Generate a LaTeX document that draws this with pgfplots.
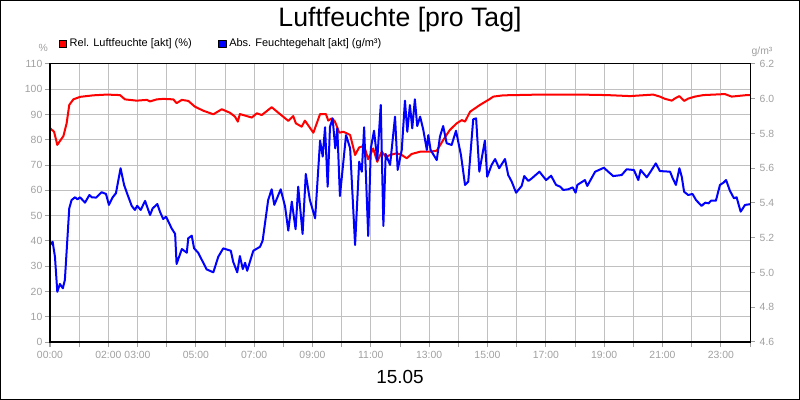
\documentclass[border=0pt]{standalone}
\usepackage{fontspec}
\setmainfont{Liberation Sans}
\usepackage{pgfplots}
\usepackage{pgfplotstable}
\pgfplotsset{compat=1.18}

\definecolor{tickgray}{RGB}{160,160,160}
\definecolor{gridgray}{RGB}{192,192,192}
\definecolor{relred}{RGB}{255,0,0}
\definecolor{absblue}{RGB}{0,0,255}

% Rel. Luftfeuchte (%), Stunde
\pgfplotstableread{
h rel
0.00 84.6
0.14 83.2
0.25 78.0
0.46 81.5
0.57 86.5
0.66 93.8
0.80 96.0
1.03 97.0
1.48 97.6
1.94 97.9
2.40 97.7
2.57 96.0
2.97 95.5
3.32 95.8
3.43 95.2
3.66 96.0
3.88 96.2
4.23 96.0
4.34 94.5
4.52 95.8
4.74 95.4
4.97 93.1
5.26 91.5
5.60 90.1
5.89 92.1
6.17 90.7
6.34 89.2
6.44 87.2
6.51 90.2
6.92 88.8
7.09 90.5
7.26 89.8
7.60 92.9
7.83 90.7
8.17 87.5
8.34 89.4
8.43 86.5
8.63 85.2
8.74 87.6
9.03 82.8
9.26 90.2
9.46 90.2
9.54 87.6
9.66 88.5
9.77 87.2
9.92 82.8
10.06 83.2
10.29 81.9
10.46 74.0
10.60 77.0
10.77 77.6
10.91 72.3
11.08 76.6
11.22 71.3
11.37 75.3
11.52 73.3
11.66 74.0
11.89 74.7
12.06 74.0
12.23 72.7
12.40 74.4
12.69 75.3
13.03 75.3
13.26 75.7
13.48 79.9
13.71 83.9
13.94 86.5
14.12 87.8
14.23 87.2
14.40 91.1
14.74 93.8
15.03 95.8
15.20 97.1
15.54 97.6
16.80 97.9
18.17 97.9
19.09 97.7
19.89 97.3
20.68 97.9
20.91 97.1
21.09 96.2
21.32 95.5
21.43 96.4
21.58 97.3
21.74 95.4
21.88 96.3
22.11 97.1
22.40 97.7
23.14 98.1
23.37 97.1
23.89 97.7
24.00 97.7
}\reltable

% Abs. Feuchtegehalt (g/m3), Stunde
\pgfplotstableread{
h abs
0.00 5.158
0.09 5.177
0.17 5.091
0.25 4.889
0.34 4.934
0.44 4.909
0.51 4.957
0.66 5.369
0.74 5.417
0.86 5.433
0.94 5.421
1.03 5.433
1.20 5.402
1.35 5.446
1.43 5.433
1.58 5.431
1.77 5.462
1.92 5.452
2.02 5.389
2.15 5.433
2.26 5.456
2.42 5.600
2.54 5.504
2.65 5.452
2.80 5.384
2.91 5.360
2.99 5.384
3.11 5.360
3.26 5.412
3.43 5.331
3.52 5.369
3.68 5.394
3.77 5.350
3.88 5.308
3.98 5.321
4.17 5.254
4.29 5.222
4.34 5.049
4.52 5.135
4.69 5.114
4.74 5.197
4.86 5.212
4.94 5.139
5.08 5.114
5.37 5.018
5.60 5.001
5.77 5.091
5.94 5.139
6.20 5.125
6.28 5.062
6.42 5.001
6.51 5.095
6.61 5.020
6.69 5.056
6.76 5.010
6.97 5.125
7.20 5.148
7.29 5.183
7.48 5.417
7.60 5.479
7.69 5.389
7.91 5.479
8.06 5.379
8.17 5.241
8.29 5.408
8.42 5.249
8.51 5.494
8.66 5.222
8.77 5.567
8.91 5.417
9.09 5.312
9.26 5.759
9.35 5.667
9.43 5.836
9.52 5.494
9.60 5.839
9.69 5.887
9.78 5.715
9.85 5.830
9.94 5.440
10.15 5.791
10.29 5.715
10.46 5.158
10.60 5.638
10.69 5.580
10.77 5.836
10.91 5.210
11.00 5.715
11.11 5.816
11.22 5.647
11.34 5.964
11.43 5.268
11.51 5.682
11.66 5.619
11.83 5.897
11.92 5.590
12.06 5.705
12.17 5.989
12.25 5.810
12.34 5.964
12.42 5.830
12.51 5.997
12.59 5.843
12.69 5.897
12.80 5.820
12.92 5.705
12.97 5.791
13.05 5.705
13.26 5.647
13.37 5.782
13.48 5.843
13.60 5.744
13.77 5.734
13.92 5.816
14.09 5.676
14.23 5.504
14.34 5.523
14.51 5.882
14.61 5.887
14.72 5.580
14.91 5.759
14.99 5.551
15.14 5.619
15.26 5.653
15.40 5.600
15.60 5.653
15.71 5.561
15.83 5.523
15.98 5.459
16.17 5.498
16.26 5.555
16.40 5.527
16.52 5.542
16.78 5.580
17.01 5.532
17.18 5.557
17.35 5.504
17.49 5.494
17.60 5.475
17.77 5.479
17.92 5.490
18.02 5.459
18.08 5.504
18.34 5.532
18.42 5.498
18.69 5.580
18.99 5.603
19.14 5.580
19.31 5.555
19.60 5.561
19.77 5.594
20.02 5.590
20.17 5.532
20.25 5.590
20.46 5.548
20.59 5.580
20.77 5.628
20.91 5.584
21.26 5.580
21.35 5.542
21.46 5.504
21.58 5.600
21.66 5.551
21.74 5.465
21.88 5.446
22.03 5.452
22.15 5.417
22.34 5.383
22.46 5.402
22.58 5.398
22.66 5.413
22.83 5.413
22.97 5.504
23.09 5.517
23.18 5.532
23.31 5.471
23.45 5.427
23.54 5.433
23.68 5.350
23.83 5.389
24.00 5.393
}\abstable

\pgfplotsset{
  every axis/.append style={
    scale only axis,
    width=525pt, height=208.5pt,
    at={(37.5pt,43.5pt)}, anchor=south west,
    xmin=0, xmax=24,
    tick align=outside,
    major tick length=3.75pt,
    tick style={color=tickgray, line width=0.75pt},
    axis line style={black, line width=0.75pt},
    ticklabel style={font=\fontsize{7.8}{9}\selectfont, text=tickgray},
    /pgf/number format/assume math mode=true,
  },
  squarelegend/.style={legend image code/.code={
    \filldraw[draw=black, line width=0.5pt] (0pt,-2.8pt) rectangle (5.6pt,2.8pt);}},
}

\begin{document}
\begin{tikzpicture}
  \begin{axis}[
      ymin=0, ymax=110,
      ytick={0,10,...,110},
      yticklabel style={xshift=1.5pt},
      xtick={0,...,24},
      xticklabels={00:00,,02:00,03:00,,05:00,,07:00,,09:00,,11:00,,13:00,,15:00,,17:00,,19:00,,21:00,,23:00,},
      tick pos=left,
      grid=major,
      major grid style={color=gridgray, line width=0.75pt},
    ]
    \addplot[relred, line width=1.5pt, line join=round] table[x=h, y=rel] {\reltable};
  \end{axis}
  \begin{axis}[
      ymin=4.6, ymax=6.2,
      ytick={4.6,4.8,5.0,5.2,5.4,5.6,5.8,6.0,6.2},
      yticklabel style={/pgf/number format/.cd, fixed, fixed zerofill, precision=1},
      axis x line=none,
      axis y line*=right,
      legend columns=2,
      legend style={at={(axis description cs:0.0124,1.072)}, anchor=west,
        draw=none, fill=none, inner sep=0pt,
        font=\fontsize{8.25}{10}\selectfont,
        /tikz/every even column/.append style={column sep=18pt}},
    ]
    \addlegendimage{relred, squarelegend}
    \addlegendentry{Rel. Luftfeuchte [akt] (\%)}
    \addplot[absblue, line width=1.5pt, line join=round, squarelegend] table[x=h, y=abs] {\abstable};
    \addlegendentry{Abs. Feuchtegehalt [akt] (g/m³)}
  \end{axis}
  % Rahmen der Zeichenfläche
  \draw[black, line width=0.75pt] (37.5pt,43.5pt) rectangle (562.5pt,252pt);

  \node[anchor=base, font=\fontsize{20}{24}\selectfont] at (300pt,280pt) {Luftfeuchte [pro Tag]};
  \node[anchor=base, font=\fontsize{14.2}{17}\selectfont] at (300pt,12.5pt) {15.05};
  \node[text=tickgray, font=\fontsize{7.8}{9}\selectfont] at (32.5pt,264pt) {\%};
  \node[text=tickgray, font=\fontsize{7.8}{9}\selectfont] at (571.5pt,261pt) {g/m³};

  \draw[black, line width=0.75pt] (0.375pt,0.375pt) rectangle (599.625pt,299.625pt);
  \pgfresetboundingbox
  \path[use as bounding box] (0pt,0pt) rectangle (600pt,300pt);
\end{tikzpicture}
\end{document}
